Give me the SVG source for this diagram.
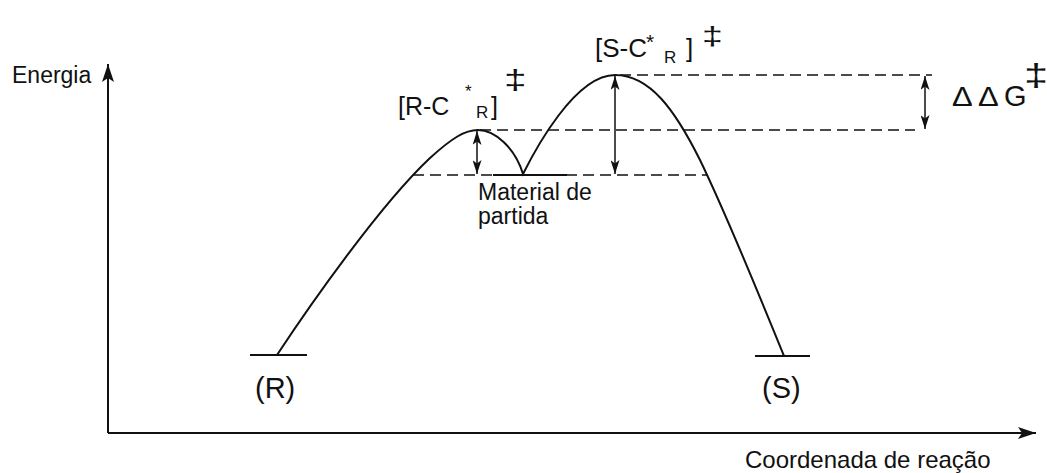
<svg xmlns="http://www.w3.org/2000/svg" width="1047" height="473" viewBox="0 0 1047 473">
<style>
  .t { font-family: "Liberation Sans", Arial, sans-serif; fill: #111; }
  .ln { stroke: #111; stroke-width: 2; fill: none; }
  .dash { stroke: #111; stroke-width: 1.6; fill: none; stroke-dasharray: 11 6; }
  .arr { stroke: #111; stroke-width: 1.5; fill: none; marker-start: url(#ah); marker-end: url(#ah); }
</style>
<defs>
  <marker id="ah" viewBox="0 0 14 9" refX="14" refY="4.5" markerWidth="14" markerHeight="9" markerUnits="userSpaceOnUse" orient="auto-start-reverse">
    <path d="M0,0 L14,4.5 L0,9 L3.5,4.5 z" fill="#111"/>
  </marker>
  <marker id="axh" viewBox="0 0 18 12" refX="18" refY="6" markerWidth="18" markerHeight="12" markerUnits="userSpaceOnUse" orient="auto">
    <path d="M0,0 L18,6 L0,12 L4,6 z" fill="#111"/>
  </marker>
</defs>
<rect width="1047" height="473" fill="#fff"/>

<g id="axes">
  <path class="ln" d="M108,433 L108,64" marker-end="url(#axh)"/>
  <path class="ln" d="M108,433 L1036,433" marker-end="url(#axh)"/>
  <text class="t" x="12" y="83" font-size="23">Energia</text>
  <text class="t" x="745" y="468" font-size="24">Coordenada de reação</text>
</g>

<g id="levels">
  <path class="dash" d="M620,75 L932,75"/>
  <path class="dash" d="M480,130 L915,130"/>
  <path class="dash" d="M413,175 L708,175"/>
  <path class="ln" d="M493,175 L567,175"/>
  <path class="ln" d="M250,355 L307,355"/>
  <path class="ln" d="M755,356 L810,356"/>
</g>

<g id="curve">
  <path class="ln" d="M277,355 C310,305 380,205 430,158 C452,138 465,130 478,130 C495,130 515,148 523,174 C535,150 575,75 615,75 C650,75 675,110 700,160 C730,222 765,310 784,356"/>
</g>

<g id="connectors">
  <path class="arr" d="M477,131 L477,174"/>
  <path class="arr" d="M615,76 L615,174"/>
  <path class="arr" d="M925,76 L925,129"/>
</g>

<g id="node-R">
  <text class="t" x="255" y="398" font-size="29">(R)</text>
</g>
<g id="node-S">
  <text class="t" x="762" y="398" font-size="29">(S)</text>
</g>

<g id="node-TS-R">
  <text class="t" x="398" y="115" font-size="25">[R-C</text>
  <text class="t" x="465" y="97" font-size="17">*</text>
  <text class="t" x="476" y="118" font-size="17">R</text>
  <text class="t" x="491" y="115" font-size="25">]</text>
  <text class="t" font-size="27" transform="translate(504,89) scale(1.5,1)">‡</text>
</g>

<g id="node-TS-S">
  <text class="t" x="595" y="57" font-size="26">[S-C</text>
  <text class="t" x="646" y="49" font-size="21">*</text>
  <text class="t" x="664" y="63" font-size="17">R</text>
  <text class="t" x="686" y="57" font-size="26">]</text>
  <text class="t" font-size="25" transform="translate(702,45) scale(1.5,1)">‡</text>
</g>

<g id="node-start">
  <text class="t" x="478" y="200" font-size="23">Material de</text>
  <text class="t" x="478" y="224" font-size="23">partida</text>
</g>

<g id="node-ddG">
  <text class="t" font-size="31" transform="translate(952,106) scale(1.0,0.9)">Δ</text>
  <text class="t" font-size="31" transform="translate(978,106) scale(1.0,0.9)">Δ</text>
  <text class="t" x="1004" y="106" font-size="29">G</text>
  <text class="t" font-size="31" transform="translate(1024,86) scale(1.4,1)">‡</text>
</g>
</svg>
